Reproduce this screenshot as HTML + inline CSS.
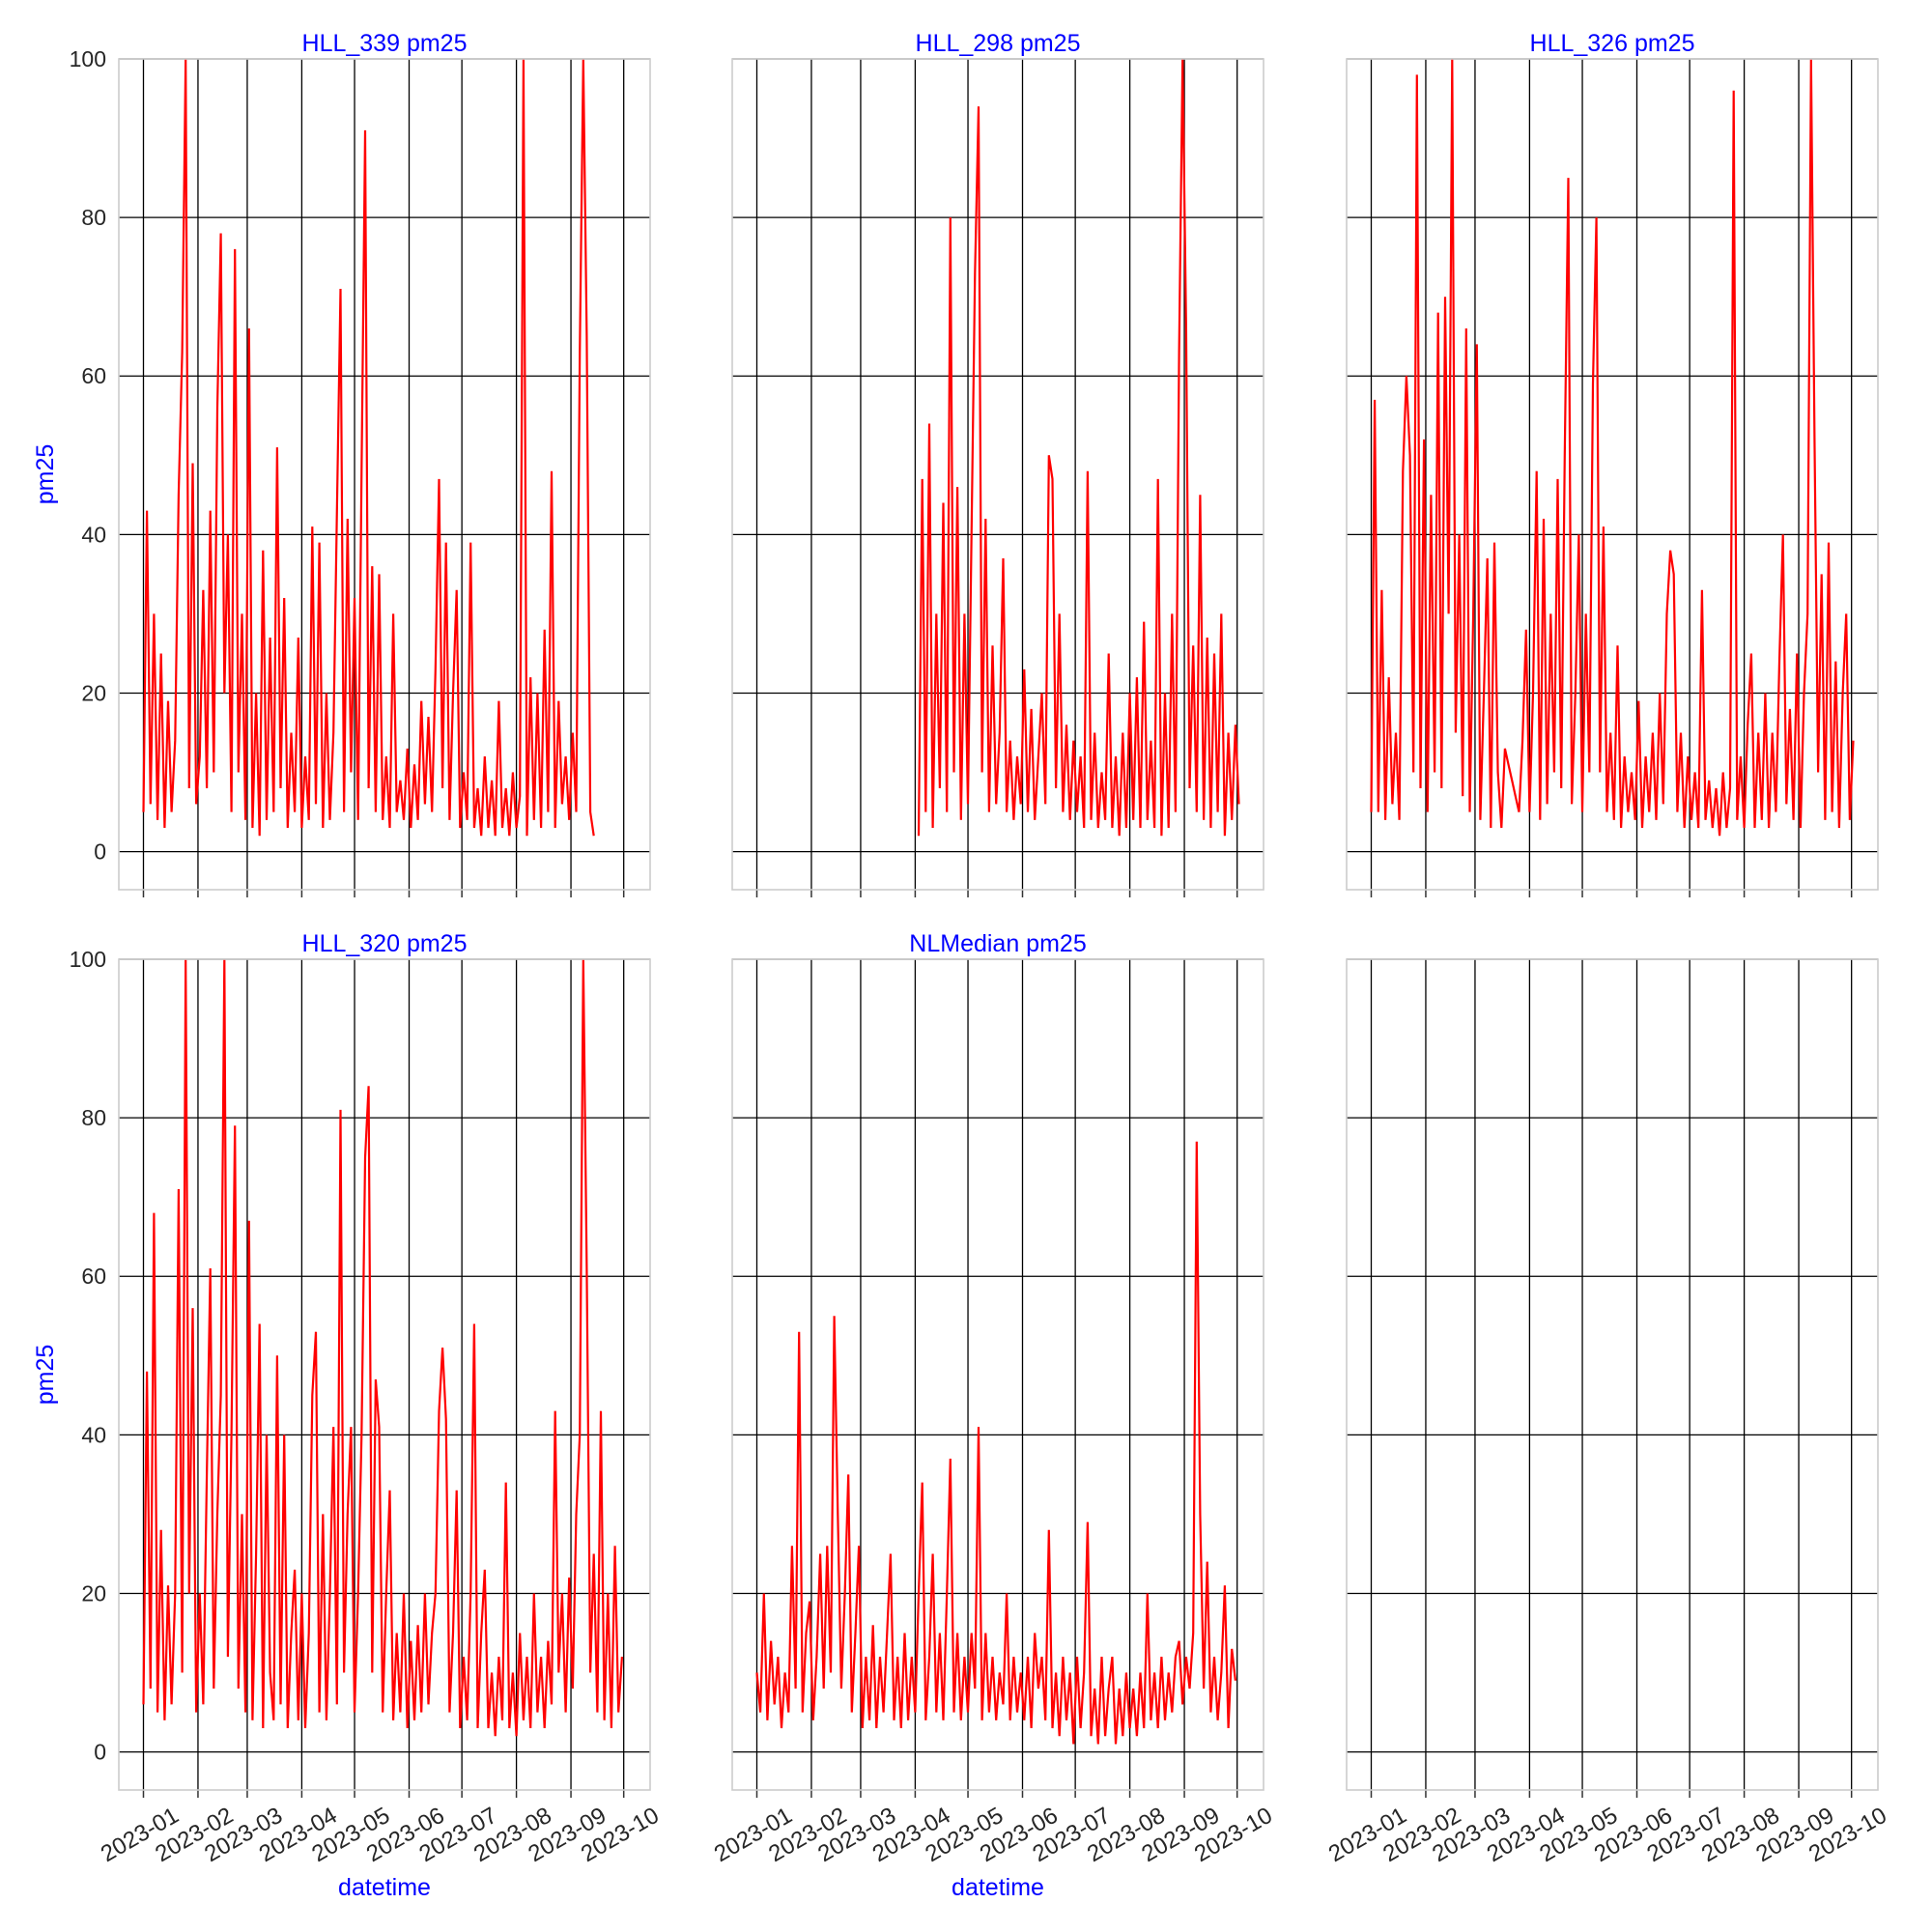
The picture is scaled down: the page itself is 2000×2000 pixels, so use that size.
<!DOCTYPE html>
<html><head><meta charset="utf-8"><style>
html,body{margin:0;padding:0;background:#fff;}
svg{display:block;font-family:"Liberation Sans",Arial,sans-serif;}
</style></head><body>
<svg id="fig" width="2000" height="2000" viewBox="0 0 2000 2000"></svg>
<script>
const monthLabels=["2023-01","2023-02","2023-03","2023-04","2023-05","2023-06","2023-07","2023-08","2023-09","2023-10"];
const monthDays=[0,31,59,90,120,151,181,212,243,273];
const yTicks=[0,20,40,60,80,100];
const titles=["HLL_339 pm25","HLL_298 pm25","HLL_326 pm25","HLL_320 pm25","NLMedian pm25",""];
const stepDays=2;
const starts=[0,92,0,0,0];
const s339=[5,43,6,30,4,25,3,19,5,14,45,63,100,8,49,6,12,33,8,43,10,56,78,20,40,5,76,10,30,4,66,3,20,2,38,4,27,5,51,8,32,3,15,5,27,3,12,4,41,6,39,3,20,4,15,43,71,5,42,10,32,4,48,91,8,36,5,35,4,12,3,30,5,9,4,13,3,11,4,19,6,17,5,23,47,8,39,4,20,33,3,10,4,39,3,8,2,12,3,9,2,19,3,8,2,10,3,7,100,2,22,4,20,3,28,5,48,3,19,6,12,4,15,5,63,100,65,5,2];
const s298=[2,47,5,54,3,30,8,44,5,80,10,46,4,30,6,40,73,94,10,42,5,26,6,15,37,5,14,4,12,6,23,5,18,4,12,20,6,50,47,8,30,5,16,4,14,5,12,3,48,4,15,3,10,4,25,3,12,2,15,3,20,4,22,3,29,4,14,3,47,2,20,3,30,5,63,100,66,8,26,5,45,4,27,3,25,5,30,2,15,4,16,6];
const s326=[5,57,5,33,4,22,6,15,4,48,60,50,10,98,8,52,5,45,10,68,8,70,30,100,15,40,7,66,5,30,64,4,20,37,3,39,10,3,13,11,9,7,5,14,28,5,20,48,4,42,6,30,10,47,8,50,85,6,20,40,5,30,10,59,80,10,41,5,15,4,26,3,12,5,10,4,19,3,12,5,15,4,20,6,30,38,35,5,15,3,12,4,10,3,33,4,9,3,8,2,10,3,8,96,4,12,3,16,25,3,15,4,20,3,15,5,24,40,6,18,4,25,3,20,30,100,52,10,35,4,39,5,24,3,20,30,4,14];
const s320=[6,48,8,68,5,28,4,21,6,20,71,10,100,20,56,5,20,6,35,61,8,30,45,100,12,40,79,8,30,5,67,4,25,54,3,40,10,4,50,6,40,3,15,23,4,20,3,15,45,53,5,30,4,20,41,6,81,10,30,41,5,20,40,75,84,10,47,41,5,20,33,4,15,5,20,3,14,4,16,5,20,6,15,20,43,51,42,5,15,33,3,12,4,20,54,3,15,23,3,10,2,12,4,34,3,10,2,15,4,12,3,20,5,12,3,14,6,43,10,20,5,22,8,30,40,100,61,10,25,5,43,4,20,3,26,5,12];
const sNL=[10,5,20,4,14,6,12,3,10,5,26,8,53,5,15,19,4,12,25,8,26,10,55,30,8,20,35,5,15,26,3,12,4,16,3,12,5,15,25,4,12,3,15,4,12,5,20,34,4,12,25,5,15,4,20,37,5,15,4,12,5,15,8,41,4,15,5,12,4,10,6,20,4,12,5,10,4,12,3,15,8,12,4,28,3,10,2,12,4,10,1,12,3,10,29,2,8,1,12,2,8,12,1,8,2,10,3,8,2,10,3,20,4,10,3,12,4,10,5,12,14,6,12,8,15,77,30,8,24,5,12,4,10,21,3,13,9];
const seriesList=[s339,s298,s326,s320,sNL];

const NS="http://www.w3.org/2000/svg";
const svg=document.getElementById('fig');
function mk(tag,attrs,parent){const e=document.createElementNS(NS,tag);for(const k in attrs)e.setAttribute(k,attrs[k]);(parent||svg).appendChild(e);return e;}
const colL=[123,758,1394], rowT=[61,993], W=550, H=860;
const xMin=-14,xMax=288,yMin=-4.8,yMax=100;
for(let p=0;p<6;p++){
  const c=p%3,r=Math.floor(p/3);
  const L=colL[c],T=rowT[r];
  const xs=d=>L+(d-xMin)/(xMax-xMin)*W;
  const ys=v=>T+(yMax-v)/(yMax-yMin)*H;
  const g=mk('g',{});
  
  
  monthDays.forEach((d,i)=>{
    const ln=mk('line',{x1:xs(d),x2:xs(d),y1:T,y2:T+H,stroke:'#000','stroke-width':1.3},g);
    
    
    const tk=mk('line',{x1:xs(d),x2:xs(d),y1:T+H,y2:T+H+8,stroke:'#333','stroke-width':1.5},g);
    
    
    if(r===1){
      const cx=xs(d)-4, cy=T+H+46;
      const t=mk('text',{x:cx,y:cy+8,'font-size':24,fill:'#262626','text-anchor':'middle',transform:`rotate(-30 ${cx} ${cy})`},g);
      t.textContent=monthLabels[i];
      
      
    }
  });
  yTicks.forEach(v=>{
    const ln=mk('line',{x1:L,x2:L+W,y1:ys(v),y2:ys(v),stroke:'#000','stroke-width':1.3},g);
    
    
    if(c===0){
      const t=mk('text',{x:L-13,y:ys(v)+8,'font-size':23,fill:'#262626','text-anchor':'end'},g);
      t.textContent=String(v);
      
      
    }
  });
  if(p<5){
    const vals=seriesList[p];
    const pts=vals.map((v,i)=>xs(starts[p]+i*stepDays).toFixed(1)+','+ys(v).toFixed(1)).join(' ');
    const pl=mk('polyline',{points:pts,fill:'none',stroke:'#ff0000','stroke-width':2.2,'stroke-linejoin':'miter'},g);
    
    
  }
  const fr=mk('rect',{x:L,y:T,width:W,height:H,fill:'none',stroke:'#cccccc','stroke-width':1.6},g);
  
  
  if(titles[p]){
    const t=mk('text',{x:L+W/2,y:T-8,'font-size':25,fill:'#0000ff','text-anchor':'middle'},g);
    t.textContent=titles[p];
    
    
  }
  if(c===0){
    const yy=T+H*0.5;
    const t=mk('text',{x:55,y:yy,'font-size':25,fill:'#0000ff','text-anchor':'middle',transform:`rotate(-90 55 ${yy})`},g);
    t.textContent='pm25';
    
    
  }
  if(r===1 && c<2){
    const t=mk('text',{x:L+W/2,y:1962,'font-size':25,fill:'#0000ff','text-anchor':'middle'},g);
    t.textContent='datetime';
    
    
  }
}
</script>
</body></html>
